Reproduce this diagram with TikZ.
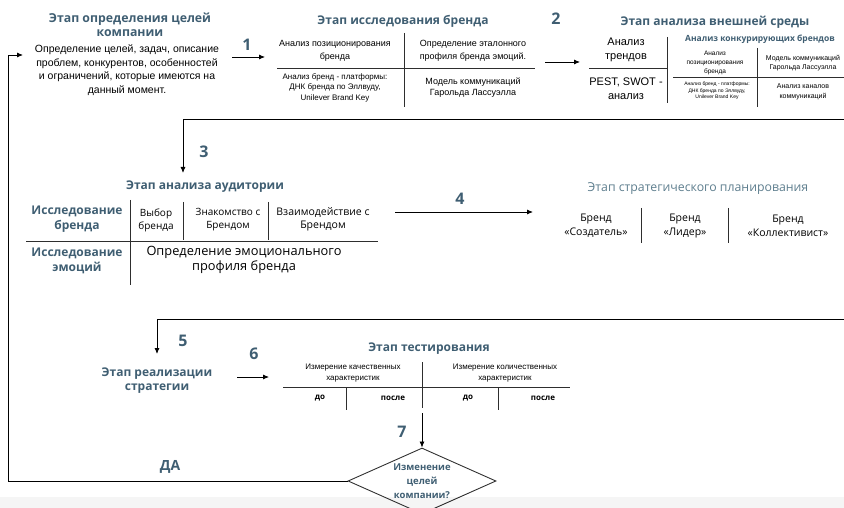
\documentclass[tikz,border=0pt]{standalone}
\usepackage{fontspec}
\setmainfont{Liberation Sans}
\newfontfamily\mf{Open Sans}
\usetikzlibrary{arrows.meta,shapes.geometric}
\definecolor{tb}{HTML}{3F5E72}
\definecolor{tl}{HTML}{5E7E8E}
\definecolor{ln}{HTML}{2E2E2E}
\tikzset{
  ttl/.style={font=\mf\bfseries\fontsize{12}{14}\selectfont, text=tb, align=center, inner sep=0pt},
  body/.style={font=\fontsize{10.5}{13.5}\selectfont, align=center, inner sep=0pt},
  cellA/.style={font=\fontsize{9}{13.5}\selectfont, align=center, inner sep=0pt},
  cellB/.style={font=\fontsize{8}{10.5}\selectfont, align=center, inner sep=0pt},
  mont/.style={font=\mf\fontsize{10}{13}\selectfont, align=center, inner sep=0pt},
  num/.style={font=\mf\bfseries\fontsize{16}{16}\selectfont, text=tb, inner sep=0pt},
  smallb/.style={font=\mf\bfseries\fontsize{8}{9}\selectfont, text=black, inner sep=0pt},
  rl/.style={draw=ln, line width=0.9pt},
  arr/.style={draw=black, line width=0.8pt, -{Latex[length=6pt,width=5pt]}},
}
\begin{document}
\begin{tikzpicture}[x=1pt,y=-1pt]
\useasboundingbox (0,0) rectangle (844,508);
\fill[black!4] (0,497) rectangle (844,508);

% ---- Stage 0: goals
\node[ttl,font=\mf\bfseries\fontsize{12.3}{14}\selectfont] (t0) at (130,25) {Этап определения целей\\компании};
\node[body] (b0) at (127,70) {Определение целей, задач, описание\\проблем, конкурентов, особенностей\\и ограничений, которые имеются на\\данный момент.};

% arrow 1
\coordinate (a1s) at (232,57);
\coordinate (a1e) at (265,57);
\draw[arr] (a1s) -- (a1e);
\node[num] (n1) at (247,45) {1};

% ---- Stage 1: brand research
\node[ttl] (t1) at (403,21) {Этап исследования бренда};
\coordinate (v1t) at (404,33); \coordinate (v1b) at (404,107);
\coordinate (h1l) at (277,68); \coordinate (h1r) at (535,68);
\draw[rl] (v1t) -- (v1b);
\draw[rl] (h1l) -- (h1r);
\node[cellA] (c11) at (335,51) {Анализ позиционирования\\бренда};
\node[cellA] (c12) at (473,51) {Определение эталонного\\профиля бренда эмоций.};
\node[cellB] (c13) at (335,87.5) {Анализ бренд - платформы:\\ДНК бренда по Эллвуду,\\Unilever Brand Key};
\node[cellA,font=\fontsize{9}{11.5}\selectfont] (c14) at (473,87.5) {Модель коммуникаций\\Гарольда Лассуэлла};

% arrow 2
\coordinate (a2s) at (545,62);
\coordinate (a2e) at (580,62);
\draw[arr] (a2s) -- (a2e);
\node[num] (n2) at (556,19) {2};

% ---- Stage 2: external environment
\node[ttl] (t2) at (715,22) {Этап анализа внешней среды};
\node[body,font=\fontsize{11}{14}\selectfont] (c21) at (626,50) {Анализ\\трендов};
\coordinate (h2l) at (589,68); \coordinate (h2r) at (668,68);
\draw[rl] (h2l) -- (h2r);
\node[body,font=\fontsize{11}{13.5}\selectfont] (c22) at (626,88.5) {PEST, SWOT -\\анализ};
\coordinate (v2t) at (667,37); \coordinate (v2b) at (667,103);
\draw[rl] (v2t) -- (v2b);
\node[ttl,font=\mf\bfseries\fontsize{8.5}{10}\selectfont] (t2b) at (760,39) {Анализ конкурирующих брендов};
\coordinate (v3t) at (757,48); \coordinate (v3b) at (757,107);
\coordinate (h3l) at (673,77); \coordinate (h3r) at (844,77);
\draw[rl] (v3t) -- (v3b);
\draw[rl] (h3l) -- (h3r);
\node[cellB,font=\fontsize{6.5}{9}\selectfont] (c23) at (715,63) {Анализ\\позиционирования\\бренда};
\node[cellB,font=\fontsize{7}{9}\selectfont] (c24) at (803,63.5) {Модель коммуникаций\\Гарольда Лассуэлла};
\node[cellB,font=\fontsize{5}{6.5}\selectfont] (c25) at (717,91) {Анализ бренд - платформы:\\ДНК бренда по Эллвуду,\\Unilever Brand Key};
\node[cellB,font=\fontsize{7}{10}\selectfont] (c26) at (803,92) {Анализ каналов\\коммуникаций};

% connector to stage 3
\coordinate (l3a) at (844,119);
\coordinate (l3b) at (183,119);
\coordinate (l3c) at (183,173);
\draw[arr] (l3a) -- (l3b) -- (l3c);
\node[num] (n3) at (204,152) {3};

% ---- Stage 3: audience
\node[ttl] (t3) at (205,187) {Этап анализа аудитории};
\coordinate (h4l) at (26,241); \coordinate (h4r) at (378,241);
\draw[rl] (h4l) -- (h4r);
\coordinate (v4t) at (130,200); \coordinate (v4b) at (130,285);
\draw[rl] (v4t) -- (v4b);
\coordinate (v5t) at (183,202); \coordinate (v5b) at (183,240);
\draw[rl] (v5t) -- (v5b);
\coordinate (v6t) at (268,202); \coordinate (v6b) at (268,240);
\draw[rl] (v6t) -- (v6b);
\node[ttl,font=\mf\bfseries\fontsize{12}{15}\selectfont] (c31) at (77,219.5) {Исследование\\бренда};
\node[mont] (c32) at (156,220.5) {Выбор\\бренда};
\node[mont] (c33) at (228,219.5) {Знакомство с\\Брендом};
\node[mont,font=\mf\fontsize{10.5}{13}\selectfont] (c34) at (323,219.5) {Взаимодействие с\\Брендом};
\node[ttl,font=\mf\bfseries\fontsize{12}{15}\selectfont] (c35) at (77,260.5) {Исследование\\эмоций};
\node[mont,font=\mf\fontsize{12.8}{15}\selectfont] (c36) at (244,259.5) {Определение эмоционального\\профиля бренда};

% arrow 4
\coordinate (a4s) at (395,212);
\coordinate (a4e) at (533,212);
\draw[arr] (a4s) -- (a4e);
\node[num] (n4) at (460,199) {4};

% ---- Stage 4: strategic planning
\node[ttl,font=\mf\fontsize{12.3}{14}\selectfont,text=tl] (t4) at (698,189) {Этап стратегического планирования};
\node[mont,font=\mf\fontsize{10.5}{14}\selectfont] (c41) at (596,226) {Бренд\\«Создатель»};
\node[mont,font=\mf\fontsize{10.5}{14}\selectfont] (c42) at (685,226) {Бренд\\«Лидер»};
\node[mont,font=\mf\fontsize{10.5}{14}\selectfont] (c43) at (788,226) {Бренд\\«Коллективист»};
\coordinate (v7t) at (641,208); \coordinate (v7b) at (641,243);
\coordinate (v8t) at (728,208); \coordinate (v8b) at (728,243);
\draw[rl] (v7t) -- (v7b);
\draw[rl] (v8t) -- (v8b);

% connector to stage 5
\coordinate (l5a) at (844,319);
\coordinate (l5b) at (157,319);
\coordinate (l5c) at (157,354);
\draw[arr] (l5a) -- (l5b) -- (l5c);
\node[num] (n5) at (183,341) {5};

% ---- Stage 5: implementation
\node[ttl] (t5) at (157,380.5) {Этап реализации\\стратегии};
\coordinate (a6s) at (237,377);
\coordinate (a6e) at (269,377);
\draw[arr] (a6s) -- (a6e);
\node[num] (n6) at (254,354) {6};

% ---- Stage 6: testing
\node[ttl] (t6) at (429,349) {Этап тестирования};
\coordinate (v9t) at (422,362); \coordinate (v9b) at (422,408);
\draw[rl] (v9t) -- (v9b);
\coordinate (h9l) at (283,387); \coordinate (h9r) at (570,387);
\draw[rl] (h9l) -- (h9r);
\coordinate (vat) at (346,387); \coordinate (vab) at (346,410);
\coordinate (vbt) at (498,387); \coordinate (vbb) at (498,410);
\draw[rl] (vat) -- (vab);
\draw[rl] (vbt) -- (vbb);
\node[cellB,font=\fontsize{8}{11}\selectfont] (c61) at (353,373.5) {Измерение качественных\\характеристик};
\node[cellB,font=\fontsize{8}{11}\selectfont] (c62) at (505,373.5) {Измерение количественных\\характеристик};
\node[smallb] (d1) at (320,398) {до};
\node[smallb] (p1) at (393,398) {после};
\node[smallb] (d2) at (468,398) {до};
\node[smallb] (p2) at (543,398) {после};

% ---- decision
\node[diamond, draw=ln, line width=0.9pt, minimum width=148pt, minimum height=66pt, inner sep=0pt] (dia) at (422,481) {};
\node[ttl,font=\mf\bfseries\fontsize{9.5}{14}\selectfont] (diat) at (dia.center) {Изменение\\целей\\компании?};
\coordinate (a7s) at (422,413);
\draw[arr] (a7s) -- (dia.north);
\node[num] (n7) at (402,432) {7};

% loop back
\coordinate (lpa) at (8,481);
\coordinate (lpb) at (8,55);
\coordinate (lpc) at (23,55);
\draw[arr] (dia.west) -- (lpa) -- (lpb) -- (lpc);
\node[num,font=\mf\bfseries\fontsize{14}{14}\selectfont] (da) at (170,467) {ДА};
\end{tikzpicture}
\end{document}
